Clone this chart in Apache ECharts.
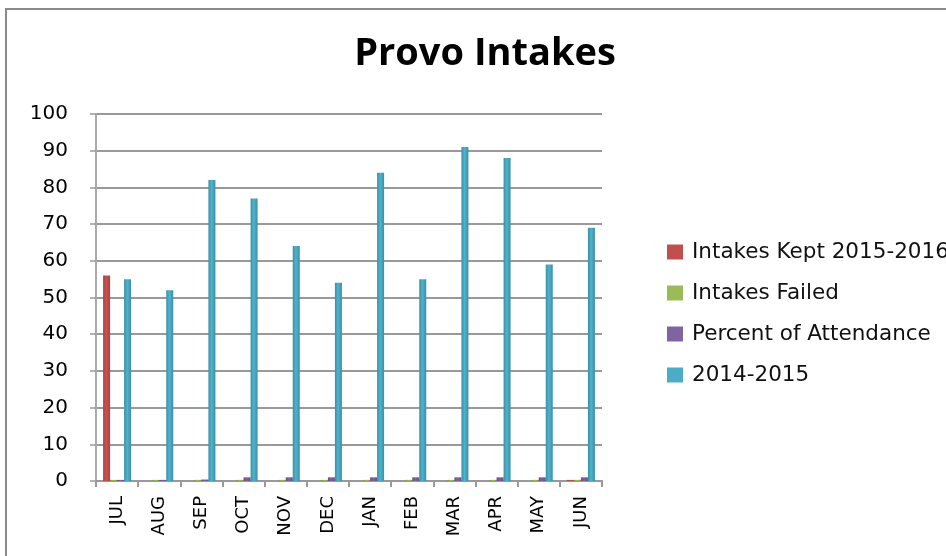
<!DOCTYPE html>
<html>
<head>
<meta charset="utf-8">
<script src="https://cdn.jsdelivr.net/npm/echarts@6/dist/echarts.min.js"></script>
<style>
  html, body { margin: 0; padding: 0; background: #fff; }
  #chart { width: 946px; height: 556px; }
</style>
</head>
<body>
<div id="chart"></div>
<script>
// Monthly intake figures, July through June
const months = ['JUL', 'AUG', 'SEP', 'OCT', 'NOV', 'DEC', 'JAN', 'FEB', 'MAR', 'APR', 'MAY', 'JUN'];
const intakesKept = [56, 0, 0, 0, 0, 0, 0, 0, 0, 0, 0, 0.3];
const intakesFailed = [0.3, 0.3, 0.3, 0.3, 0.3, 0.3, 0.3, 0.3, 0.3, 0.3, 0.3, 0.3];
const percentAttendance = [0.3, 0.3, 0.4, 1, 1, 1, 1, 1, 1, 1, 1, 1];
const prevYear = [55, 52, 82, 77, 64, 54, 84, 55, 91, 88, 59, 69];
const yTicks = { min: 0, max: 100, interval: 10 };

const titleFont = 'Open Sans, sans-serif';
const font = 'DejaVu Sans, sans-serif';

function shaded(base, dark) {
  return new echarts.graphic.LinearGradient(0, 0, 1, 0, [
    { offset: 0, color: dark },
    { offset: 0.45, color: base },
    { offset: 1, color: dark }
  ]);
}

const chart = echarts.init(document.getElementById('chart'), null, { renderer: 'canvas' });

function barSeries(name, data, base, dark) {
  return {
    name: name,
    type: 'bar',
    data: data,
    barWidth: 7,
    barGap: '0%',
    itemStyle: { color: shaded(base, dark) },
    emphasis: { disabled: true }
  };
}

chart.setOption({
  animation: false,
  title: {
    text: 'Provo Intakes',
    left: 480,
    top: 30,
    textAlign: 'center',
    textStyle: { fontFamily: titleFont, fontWeight: 'bold', fontSize: 38, color: '#000' }
  },
  legend: {
    orient: 'vertical',
    left: 667,
    top: 241,
    padding: 0,
    itemWidth: 16,
    itemHeight: 15,
    itemGap: 19,
    icon: 'rect',
    textStyle: { fontFamily: font, fontSize: 21.5, color: '#111', padding: [0, 0, 0, 4] },
    data: [
      { name: 'Intakes Kept 2015-2016', itemStyle: { color: '#c0504d' } },
      { name: 'Intakes Failed', itemStyle: { color: '#9bbb59' } },
      { name: 'Percent of Attendance', itemStyle: { color: '#8064a2' } },
      { name: '2014-2015', itemStyle: { color: '#4bacc6' } }
    ]
  },
  grid: { left: 96, right: 344, top: 114, bottom: 75 },
  xAxis: {
    type: 'category',
    data: months,
    axisLine: { lineStyle: { color: '#999', width: 2 } },
    axisTick: { show: true, length: 6, lineStyle: { color: '#999', width: 2 } },
    axisLabel: {
      rotate: 90,
      margin: 15,
      fontFamily: font,
      fontSize: 18,
      color: '#000'
    },
    splitLine: { show: false }
  },
  yAxis: {
    type: 'value',
    min: yTicks.min,
    max: yTicks.max,
    interval: yTicks.interval,
    axisLine: { show: true, lineStyle: { color: '#aaa', width: 2 } },
    axisTick: { show: true, length: 6, lineStyle: { color: '#999', width: 1.5 } },
    axisLabel: { fontFamily: font, fontSize: 20, color: '#000', margin: 28 },
    splitLine: { show: true, lineStyle: { color: '#999', width: 2 } }
  },
  graphic: [
    {
      type: 'rect',
      shape: { x: 6, y: 9, width: 1000, height: 600 },
      style: { fill: 'none', stroke: '#8a8a8a', lineWidth: 2 },
      silent: true
    }
  ],
  series: [
    barSeries('Intakes Kept 2015-2016', intakesKept, '#c9524f', '#a94442'),
    barSeries('Intakes Failed', intakesFailed, '#9bbb59', '#7f9a48'),
    barSeries('Percent of Attendance', percentAttendance, '#8064a2', '#674f85'),
    barSeries('2014-2015', prevYear, '#4fb3cc', '#3a8fa6')
  ]
});
</script>
</body>
</html>
